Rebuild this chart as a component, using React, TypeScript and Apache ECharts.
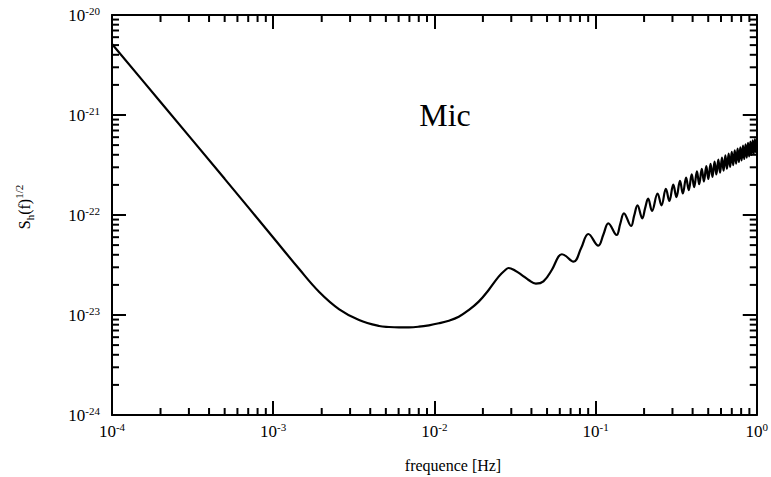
import React, { useEffect, useRef } from 'react';
import * as echarts from 'echarts';

// frequency [Hz] and S_h(f)^{1/2}
const freqs = [
  1e-4, 2e-4, 5e-4, 1e-3, 1.45e-3, 1.93e-3, 2.57e-3, 3.41e-3, 4.54e-3, 5.23e-3,
  6.03e-3, 6.96e-3, 8.02e-3, 9.25e-3, 1.066e-2, 1.229e-2, 1.417e-2, 1.634e-2, 1.884e-2, 2.172e-2,
  2.505e-2, 2.755e-2, 2.888e-2, 3.177e-2, 3.49e-2, 3.84e-2, 4.26e-2, 4.75e-2, 5.35e-2, 5.885e-2,
  6.18e-2, 7.3e-2, 8.13e-2, 9.02e-2, 0.104, 0.1117, 0.12, 0.135, 0.1422, 0.15,
  0.166, 0.1736, 0.182, 0.195, 0.203, 0.212, 0.224, 0.2425, 0.2565, 0.273,
  0.287, 0.3035, 0.3175, 0.334, 0.348, 0.3645, 0.3785, 0.395, 0.409, 0.4255,
  0.4395, 0.456, 0.47, 0.4865, 0.5005, 0.517, 0.531, 0.5475, 0.5615, 0.578,
  0.592, 0.6085, 0.6225, 0.639, 0.653, 0.6695, 0.6835, 0.7, 0.714, 0.7305,
  0.7445, 0.761, 0.775, 0.7915, 0.8055, 0.822, 0.836, 0.8525, 0.8665, 0.883,
  0.897, 0.9135, 0.9275, 0.944, 0.958, 0.9745, 0.9885, 1.0,
];
const strain = [
  5.13e-21, 1.35e-21, 2.3e-22, 5.96e-23, 2.88e-23, 1.7e-23, 1.14e-23, 8.91e-24, 7.76e-24, 7.59e-24,
  7.53e-24, 7.53e-24, 7.64e-24, 7.89e-24, 8.26e-24, 8.77e-24, 9.62e-24, 1.12e-23, 1.36e-23, 1.78e-23,
  2.42e-23, 2.82e-23, 2.95e-23, 2.77e-23, 2.51e-23, 2.24e-23, 2.06e-23, 2.17e-23, 2.82e-23, 3.83e-23,
  4.05e-23, 3.41e-23, 4.65e-23, 6.46e-23, 4.93e-23, 6.35e-23, 8.26e-23, 6.31e-23, 8.13e-23, 1.04e-22,
  7.76e-23, 9.84e-23, 1.25e-22, 9.27e-23, 1.17e-22, 1.46e-22, 1.1e-22, 1.64e-22, 1.25e-22, 1.83e-22,
  1.38e-22, 2.01e-22, 1.51e-22, 2.19e-22, 1.64e-22, 2.37e-22, 1.77e-22, 2.55e-22, 1.9e-22, 2.73e-22,
  2.03e-22, 2.9e-22, 2.16e-22, 3.08e-22, 2.29e-22, 3.25e-22, 2.41e-22, 3.42e-22, 2.54e-22, 3.59e-22,
  2.65e-22, 3.76e-22, 2.78e-22, 3.94e-22, 2.9e-22, 4.1e-22, 3.03e-22, 4.27e-22, 3.15e-22, 4.44e-22,
  3.27e-22, 4.6e-22, 3.39e-22, 4.76e-22, 3.51e-22, 4.93e-22, 3.63e-22, 5.09e-22, 3.75e-22, 5.26e-22,
  3.86e-22, 5.42e-22, 3.98e-22, 5.58e-22, 4.1e-22, 5.75e-22, 4.22e-22, 5.0e-22,
];

const xMin = 1e-4;
const xMax = 1;
const yMin = 1e-24;
const yMax = 1e-20;
const xMinorDecades = [-4, -3, -2, -1];
const yMinorDecades = [-24, -23, -22, -21];
const minorMultipliers = [2, 3, 4, 5, 6, 7, 8, 9];
const xTitle = 'frequence [Hz]';
const curveName = 'Mic';

// ECharts rounds to at most 20 decimals, so y is plotted in units of 1e-24
const Y_UNIT_EXP = -24;
const Y_UNIT = 1e-24;

const FONT = '"Liberation Serif", "DejaVu Serif", serif';

export default function App() {
  const ref = useRef<HTMLDivElement>(null);
  useEffect(() => {
    if (!ref.current) return;
    const chart = echarts.init(ref.current, undefined, { renderer: 'svg' });

    const yS = (v: number) => v / Y_UNIT;
    const yLo = yS(yMin);
    const yHi = yS(yMax);

    const minorX: number[][] = [];
    xMinorDecades.forEach((d) => minorMultipliers.forEach((m) => minorX.push([m * Math.pow(10, d), yLo])));
    const minorY: number[][] = [];
    yMinorDecades.forEach((d) =>
      minorMultipliers.forEach((m) => minorY.push([xMin, m * Math.pow(10, d - Y_UNIT_EXP)]))
    );

    const xFmt = (v: number) => `{b|10}{s|${Math.round(Math.log10(v))}}`;
    const yFmt = (v: number) => `{b|10}{s|${Math.round(Math.log10(v)) + Y_UNIT_EXP}}`;
    const rich = {
      b: { fontSize: 17, lineHeight: 20, fontFamily: FONT, color: '#000' },
      s: { fontSize: 11, lineHeight: 11, verticalAlign: 'top', fontFamily: FONT, color: '#000' },
    };
    const axisCommon = {
      type: 'log',
      logBase: 10,
      axisLine: { show: true, onZero: false, lineStyle: { color: '#000', width: 2 } },
      axisTick: { show: true, inside: true, length: 14, lineStyle: { color: '#000', width: 2 } },
      splitLine: { show: false },
    };
    const tickStyle = { stroke: '#000', lineWidth: 2 };

    chart.setOption({
      animation: false,
      backgroundColor: '#fff',
      textStyle: { fontFamily: FONT, color: '#000' },
      grid: { left: 112, right: 12, top: 15, bottom: 62, containLabel: false },
      xAxis: [
        {
          ...axisCommon,
          position: 'bottom',
          min: xMin,
          max: xMax,
          axisLabel: {
            show: true, margin: 6, formatter: xFmt, rich, fontSize: 17, fontFamily: FONT, color: '#000',
            showMinLabel: true, showMaxLabel: true,
          },
        },
        {
          ...axisCommon,
          position: 'top',
          min: xMin,
          max: xMax,
          axisLabel: { show: false },
        },
      ],
      yAxis: [
        {
          ...axisCommon,
          position: 'left',
          min: yLo,
          max: yHi,
          axisLabel: {
            show: true, margin: 12, formatter: yFmt, rich, fontSize: 17, fontFamily: FONT, color: '#000',
            showMinLabel: true, showMaxLabel: true,
          },
        },
        {
          ...axisCommon,
          position: 'right',
          min: yLo,
          max: yHi,
          axisLabel: { show: false },
        },
      ],
      series: [
        {
          type: 'line',
          xAxisIndex: 0,
          yAxisIndex: 0,
          data: freqs.map((f, i) => [f, yS(strain[i])]),
          showSymbol: false,
          smooth: 0.4,
          lineStyle: { color: '#000', width: 2.2 },
          silent: true,
        },
        {
          type: 'custom',
          xAxisIndex: 0,
          yAxisIndex: 0,
          silent: true,
          data: minorX,
          renderItem: (params: any, api: any) => {
            const v = api.value(0);
            const b = api.coord([v, yLo]);
            const t = api.coord([v, yHi]);
            return {
              type: 'group',
              children: [
                { type: 'line', shape: { x1: b[0], y1: b[1], x2: b[0], y2: b[1] - 7 }, style: tickStyle },
                { type: 'line', shape: { x1: t[0], y1: t[1], x2: t[0], y2: t[1] + 7 }, style: tickStyle },
              ],
            };
          },
        },
        {
          type: 'custom',
          xAxisIndex: 0,
          yAxisIndex: 0,
          silent: true,
          data: minorY,
          renderItem: (params: any, api: any) => {
            const v = api.value(1);
            const l = api.coord([xMin, v]);
            const r = api.coord([xMax, v]);
            return {
              type: 'group',
              children: [
                { type: 'line', shape: { x1: l[0], y1: l[1], x2: l[0] + 7, y2: l[1] }, style: tickStyle },
                { type: 'line', shape: { x1: r[0], y1: r[1], x2: r[0] - 7, y2: r[1] }, style: tickStyle },
              ],
            };
          },
        },
      ],
      graphic: [
        {
          type: 'text',
          x: 445,
          y: 115,
          silent: true,
          style: { text: curveName, fontSize: 32, fontFamily: FONT, fill: '#000', align: 'center', verticalAlign: 'middle' },
        },
        {
          type: 'text',
          x: 453,
          y: 465,
          silent: true,
          style: { text: xTitle, fontSize: 16, fontFamily: FONT, fill: '#000', align: 'center', verticalAlign: 'middle' },
        },
        {
          type: 'text',
          x: 24,
          y: 207,
          rotation: Math.PI / 2,
          silent: true,
          style: {
            text: '{m|S}{sub|h}{m|(f)}{sup|1/2}',
            align: 'center',
            verticalAlign: 'middle',
            fill: '#000',
            fontSize: 16,
            fontFamily: FONT,
            rich: {
              m: { fontSize: 16, lineHeight: 22, fontFamily: FONT, fill: '#000' },
              sub: { fontSize: 11, lineHeight: 3, verticalAlign: 'bottom', fontFamily: FONT, fill: '#000' },
              sup: { fontSize: 11, lineHeight: 11, verticalAlign: 'top', fontFamily: FONT, fill: '#000' },
            },
          },
        },
      ],
    });
    return () => chart.dispose();
  }, []);
  return <div ref={ref} style={{ position: 'absolute', left: 0, top: 0, width: 771, height: 477 }} />;
}
